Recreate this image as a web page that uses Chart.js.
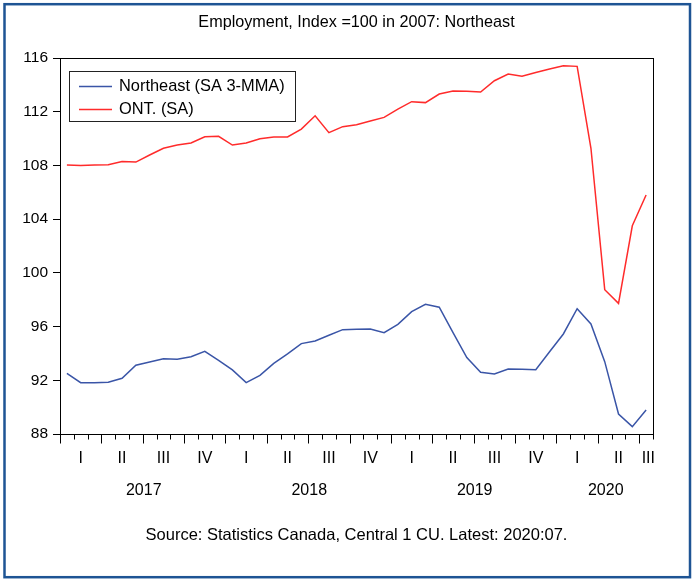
<!DOCTYPE html>
<html>
<head>
<meta charset="utf-8">
<title>Employment, Index =100 in 2007: Northeast</title>
<script src="https://cdn.jsdelivr.net/npm/chart.js@4/dist/chart.umd.min.js"></script>
<style>
  html, body { margin: 0; padding: 0; background: #fff; }
  #wrap { position: relative; width: 692px; height: 581px; }
</style>
</head>
<body>
<div id="wrap"><canvas id="chart"></canvas></div>
<script>
// monthly observations, Jan 2017 - Jul 2020
const months = [
  '2017-01','2017-02','2017-03','2017-04','2017-05','2017-06','2017-07','2017-08','2017-09','2017-10','2017-11','2017-12',
  '2018-01','2018-02','2018-03','2018-04','2018-05','2018-06','2018-07','2018-08','2018-09','2018-10','2018-11','2018-12',
  '2019-01','2019-02','2019-03','2019-04','2019-05','2019-06','2019-07','2019-08','2019-09','2019-10','2019-11','2019-12',
  '2020-01','2020-02','2020-03','2020-04','2020-05','2020-06','2020-07'
];

const northeast = [
  92.52, 91.82, 91.82, 91.85, 92.15, 93.12, 93.36, 93.61, 93.56, 93.76, 94.15, 93.49,
  92.77, 91.83, 92.37, 93.26, 93.96, 94.73, 94.93, 95.35, 95.77, 95.81, 95.82, 95.55,
  96.17, 97.11, 97.66, 97.44, 95.55, 93.69, 92.60, 92.47, 92.84, 92.82, 92.79, 94.13,
  95.45, 97.33, 96.20, 93.39, 89.49, 88.55, 89.79
];

const ontario = [
  108.03, 108.00, 108.03, 108.06, 108.30, 108.25, 108.78, 109.28, 109.52, 109.67, 110.14, 110.17,
  109.52, 109.67, 109.99, 110.12, 110.12, 110.71, 111.70, 110.44, 110.89, 111.03, 111.31, 111.58,
  112.20, 112.75, 112.68, 113.32, 113.54, 113.52, 113.47, 114.31, 114.81, 114.64, 114.93, 115.18,
  115.43, 115.38, 109.28, 98.75, 97.73, 103.51, 105.80
];

const quarterNames = ['I', 'II', 'III', 'IV'];
const yTicks = [88, 92, 96, 100, 104, 108, 112, 116];

const FONT = '"Liberation Sans", Arial, sans-serif';

// year of a category label and its quarter index (0..3)
const yearOf = i => months[i].slice(0, 4);
const quarterOf = i => Math.floor((parseInt(months[i].slice(5), 10) - 1) / 3);

// frame, month ticks, quarter + year labels, legend box
const decorations = {
  id: 'decorations',
  beforeDraw(chart) {
    const ctx = chart.ctx;
    ctx.save();
    ctx.fillStyle = '#fff';
    ctx.fillRect(0, 0, chart.width, chart.height);
    ctx.restore();
  },
  afterDraw(chart) {
    const ctx = chart.ctx;
    const area = chart.chartArea;
    const x = chart.scales.x;
    const n = months.length;
    const half = (x.getPixelForValue(1) - x.getPixelForValue(0)) / 2;
    const edge = i => i < n ? x.getPixelForValue(i) - half : x.getPixelForValue(n - 1) + half;

    ctx.save();

    // plot frame
    ctx.strokeStyle = '#000';
    ctx.lineWidth = 1;
    ctx.strokeRect(Math.round(area.left) + 0.5, Math.round(area.top) + 0.5,
      Math.round(area.right - area.left), Math.round(area.bottom - area.top));

    // month ticks, longer at quarter starts
    const base = Math.round(area.bottom) + 0.5;
    ctx.beginPath();
    for (let i = 0; i <= n; i++) {
      const px = Math.round(edge(i)) + 0.5;
      const isQuarter = i < n && (parseInt(months[i].slice(5), 10) - 1) % 3 === 0;
      ctx.moveTo(px, base);
      ctx.lineTo(px, base + (isQuarter ? 9 : 5));
    }
    ctx.stroke();

    // quarter labels
    ctx.fillStyle = '#000';
    ctx.font = '16px ' + FONT;
    ctx.textBaseline = 'middle';
    let start = 0;
    for (let i = 1; i <= n; i++) {
      if (i === n || quarterOf(i) !== quarterOf(start) || yearOf(i) !== yearOf(start)) {
        const label = quarterNames[quarterOf(start)];
        if (i - start < 3) {
          ctx.textAlign = 'right';
          ctx.fillText(label, area.right + 2, base + 24);
        } else {
          ctx.textAlign = 'center';
          ctx.fillText(label, (edge(start) + edge(i)) / 2, base + 24);
        }
        start = i;
      }
    }

    // year labels
    ctx.textAlign = 'center';
    start = 0;
    for (let i = 1; i <= n; i++) {
      if (i === n || yearOf(i) !== yearOf(start)) {
        ctx.fillText(yearOf(start), (edge(start) + edge(i)) / 2 + 1, base + 56);
        start = i;
      }
    }

    // legend inside the plot
    const lx = area.left + 9, ly = area.top + 13;
    ctx.font = '16.4px ' + FONT;
    ctx.strokeStyle = '#222';
    ctx.strokeRect(Math.round(lx) + 0.5, Math.round(ly) + 0.5, 226, 50);
    chart.data.datasets.forEach((ds, k) => {
      const ry = Math.round(ly + 15 + k * 22.5) + 0.5;
      ctx.strokeStyle = ds.borderColor;
      ctx.lineWidth = 1.3;
      ctx.beginPath();
      ctx.moveTo(lx + 10, ry);
      ctx.lineTo(lx + 43, ry);
      ctx.stroke();
      ctx.fillStyle = '#000';
      ctx.textAlign = 'left';
      ctx.fillText(ds.label, lx + 50, ry);
    });

    // outer border of the figure
    ctx.strokeStyle = '#1e5494';
    ctx.lineWidth = 2.5;
    ctx.strokeRect(4.5, 4.2, 685.5, 573);

    ctx.restore();
  }
};

new Chart(document.getElementById('chart'), {
  type: 'line',
  data: {
    labels: months,
    datasets: [
      {
        label: 'Northeast (SA 3-MMA)',
        data: northeast,
        borderColor: '#3a55a7',
        borderWidth: 1.5,
        pointRadius: 0,
        tension: 0
      },
      {
        label: 'ONT. (SA)',
        data: ontario,
        borderColor: '#ff2b2b',
        borderWidth: 1.5,
        pointRadius: 0,
        tension: 0
      }
    ]
  },
  options: {
    responsive: true,
    maintainAspectRatio: false,
    animation: false,
    layout: { padding: { left: 0, right: 39, top: 0, bottom: 0 } },
    plugins: {
      legend: { display: false },
      tooltip: { enabled: false },
      title: {
        display: true,
        text: 'Employment, Index =100 in 2007: Northeast',
        color: '#000',
        fullSize: false,
        font: { family: FONT, size: 16.2, weight: 'normal' },
        padding: { top: 12.5, bottom: 26.1 }
      },
      subtitle: {
        display: true,
        position: 'bottom',
        text: 'Source: Statistics Canada, Central 1 CU. Latest: 2020:07.',
        color: '#000',
        fullSize: false,
        font: { family: FONT, size: 16.5 },
        padding: { top: 11.5, bottom: 35.7 }
      }
    },
    scales: {
      x: {
        type: 'category',
        offset: true,
        grid: { display: false },
        border: { display: false },
        ticks: { display: false },
        afterFit(scale) { scale.height = 80; }
      },
      y: {
        min: yTicks[0],
        max: yTicks[yTicks.length - 1],
        afterBuildTicks(scale) { scale.ticks = yTicks.map(v => ({ value: v })); },
        grid: { drawOnChartArea: false, tickLength: 7, color: '#000' },
        border: { display: true, color: '#000' },
        ticks: {
          color: '#000',
          padding: 5,
          font: { family: FONT, size: 15.5 }
        },
        afterFit(scale) { scale.width = 60; }
      }
    }
  },
  plugins: [decorations]
});
</script>
</body>
</html>
